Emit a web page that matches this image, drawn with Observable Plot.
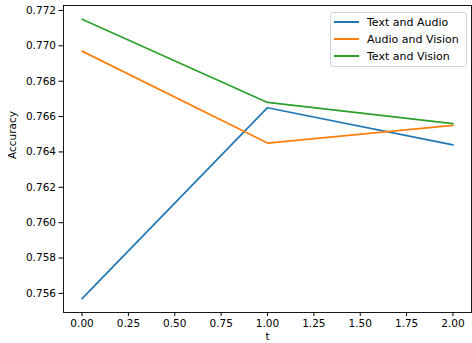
<!DOCTYPE html>
<html>
<head>
<meta charset="utf-8">
<script src="https://cdn.jsdelivr.net/npm/d3@7"></script>
<script src="https://cdn.jsdelivr.net/npm/@observablehq/plot@0.6"></script>
<style>
  html, body { margin: 0; padding: 0; background: #fff; }
  #wrap { position: relative; width: 472px; height: 343px; font-family: "DejaVu Sans", sans-serif; }
  #legend { position: absolute; left: 330px; top: 12px; width: 137px; height: 55px; border: 1px solid #d5d5d5; border-radius: 3px; background: rgba(255,255,255,0.8); box-sizing: border-box; font-size: 11px; color: #000; }
  .item { position: absolute; left: 3px; height: 14px; display: flex; align-items: center; white-space: nowrap; }
  .swatch { width: 25px; height: 0; border-top: 2px solid; margin-right: 8px; }
</style>
</head>
<body>
<div id="wrap"><div id="legend"></div></div>
<script>
const tValues = [0, 1, 2];
const seriesNames = ["Text and Audio", "Audio and Vision", "Text and Vision"];
const textAudio = [0.7557, 0.7665, 0.7644];
const audioVision = [0.7697, 0.7645, 0.7655];
const textVision = [0.7715, 0.7668, 0.7656];
const colors = ["#1f77b4", "#ff7f0e", "#2ca02c"];
const xTicks = [0, 0.25, 0.5, 0.75, 1, 1.25, 1.5, 1.75, 2];
const yTicks = [0.756, 0.758, 0.760, 0.762, 0.764, 0.766, 0.768, 0.770, 0.772];

const seriesValues = [textAudio, audioVision, textVision];
const data = [];
seriesNames.forEach((name, i) => {
  tValues.forEach((t, j) => data.push({series: name, t, acc: seriesValues[i][j]}));
});

const chart = Plot.plot({
  width: 472,
  height: 343,
  marginLeft: 63,
  marginRight: 1,
  marginTop: 5,
  marginBottom: 31,
  style: {fontFamily: "DejaVu Sans, sans-serif", fontSize: "10.5px", background: "#fff", color: "#000"},
  x: {domain: [-0.1, 2.1]},
  y: {domain: [0.75492, 0.77228]},
  color: {domain: seriesNames, range: colors},
  marks: [
    Plot.line(data, {x: "t", y: "acc", z: "series", stroke: "series", strokeWidth: 1.7}),
    Plot.frame({stroke: "#000", strokeWidth: 0.9}),
    Plot.axisX({ticks: xTicks, tickFormat: d3.format(".2f"), tickSize: 4, tickPadding: 3, label: null, stroke: "#000", fill: "#000", fontSize: 10.5}),
    Plot.axisY({ticks: yTicks, tickFormat: d3.format(".3f"), tickSize: 4.5, tickPadding: 3, label: null, stroke: "#000", fill: "#000", fontSize: 10.5}),
    Plot.text(["t"], {frameAnchor: "bottom", dy: 27, fill: "#000", fontSize: 10.5}),
    Plot.text(["Accuracy"], {frameAnchor: "left", dx: -51, rotate: -90, fill: "#000", fontSize: 10.5})
  ]
});
document.getElementById("wrap").prepend(chart);

const legend = document.getElementById("legend");
seriesNames.forEach((name, i) => {
  const item = document.createElement("div");
  item.className = "item";
  item.style.top = (2 + i * 17) + "px";
  const sw = document.createElement("span");
  sw.className = "swatch";
  sw.style.borderColor = colors[i];
  const label = document.createElement("span");
  label.textContent = name;
  item.append(sw, label);
  legend.append(item);
});
</script>
</body>
</html>
